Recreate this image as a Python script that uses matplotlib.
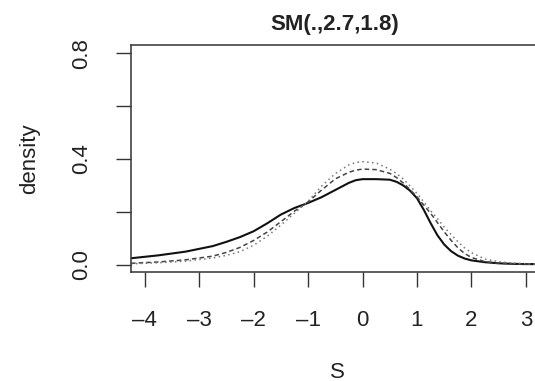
import numpy as np
import matplotlib
matplotlib.use("Agg")
import matplotlib.pyplot as plt

plt.rcParams['font.family'] = ['Liberation Sans', 'DejaVu Sans']

# values
s_grid = [-4.25, -3.75, -3.25, -2.75, -2.5, -2.25, -2.0, -1.75, -1.5, -1.25,
          -1.0, -0.75, -0.5, -0.25, -0.125, 0.0, 0.25, 0.5, 0.625, 0.75,
          0.875, 1.0, 1.125, 1.25, 1.375, 1.5, 1.625, 1.75, 1.875, 2.0,
          2.25, 2.5, 2.75, 3.0, 3.3]
dens_solid = [0.025, 0.036, 0.050, 0.071, 0.087, 0.105, 0.127, 0.157, 0.190, 0.215,
              0.234, 0.256, 0.283, 0.310, 0.320, 0.324, 0.324, 0.322, 0.314, 0.300,
              0.280, 0.252, 0.208, 0.158, 0.112, 0.077, 0.052, 0.035, 0.024, 0.017,
              0.010, 0.006, 0.004, 0.003, 0.003]
dens_dashed = [0.006, 0.011, 0.019, 0.033, 0.047, 0.066, 0.092, 0.124, 0.163, 0.203,
               0.238, 0.283, 0.325, 0.350, 0.358, 0.362, 0.360, 0.346, 0.330, 0.309,
               0.284, 0.257, 0.226, 0.195, 0.160, 0.125, 0.093, 0.065, 0.043, 0.028,
               0.012, 0.006, 0.004, 0.003, 0.003]
dens_dotted = [0.004, 0.008, 0.014, 0.026, 0.036, 0.050, 0.074, 0.108, 0.150, 0.195,
               0.240, 0.298, 0.345, 0.378, 0.387, 0.390, 0.385, 0.362, 0.345, 0.324,
               0.298, 0.270, 0.238, 0.205, 0.175, 0.143, 0.115, 0.088, 0.064, 0.046,
               0.022, 0.012, 0.007, 0.004, 0.003]

x_ticks = [-4, -3, -2, -1, 0, 1, 2, 3]
y_ticks = [0.0, 0.2, 0.4, 0.6, 0.8]
y_ticklabels = ['0.0', '', '0.4', '', '0.8']

W, H = 535, 381
fig = plt.figure(figsize=(W / 100, H / 100), dpi=100)
# axes box runs a little past the right edge of the picture (cropped)
ax = fig.add_axes([131 / W, 1 - 271.5 / H, 408 / W, 226.5 / H])

ax.plot(s_grid, dens_solid, color='#111111', lw=1.5, ls='-')
ax.plot(s_grid, dens_dashed, color='#444444', lw=1.1, ls=(0, (3, 2)))
ax.plot(s_grid, dens_dotted, color='#777777', lw=1.1, ls=(0, (1, 2.2)))

ax.set_xlim(-4.25, 3.24)
ax.set_ylim(-0.025, 0.831)

ax.set_xticks(x_ticks)
ax.set_xticklabels([str(t).replace('-', '\u2013') for t in x_ticks])
ax.set_yticks(y_ticks)
ax.set_yticklabels(y_ticklabels, rotation=90, va='center')

for sp in ax.spines.values():
    sp.set_color('#333333')
    sp.set_linewidth(1.1)

ax.tick_params(axis='both', direction='out', length=11, width=1.0,
               color='#333333', labelcolor='#222222', labelsize=16)
ax.tick_params(axis='x', pad=17)
ax.tick_params(axis='y', pad=17)

ax.set_title('SM(.,2.7,1.8)', fontsize=16, fontweight='bold', pad=11, color='#222222')
fig.text(337 / W, 1 - 372 / H, 'S', ha='center', va='center', fontsize=16, color='#222222')
fig.text(30 / W, 1 - 158.5 / H, 'density', ha='center', va='center', rotation=90,
         fontsize=16, color='#222222')

fig.savefig('out.png', dpi=100)
